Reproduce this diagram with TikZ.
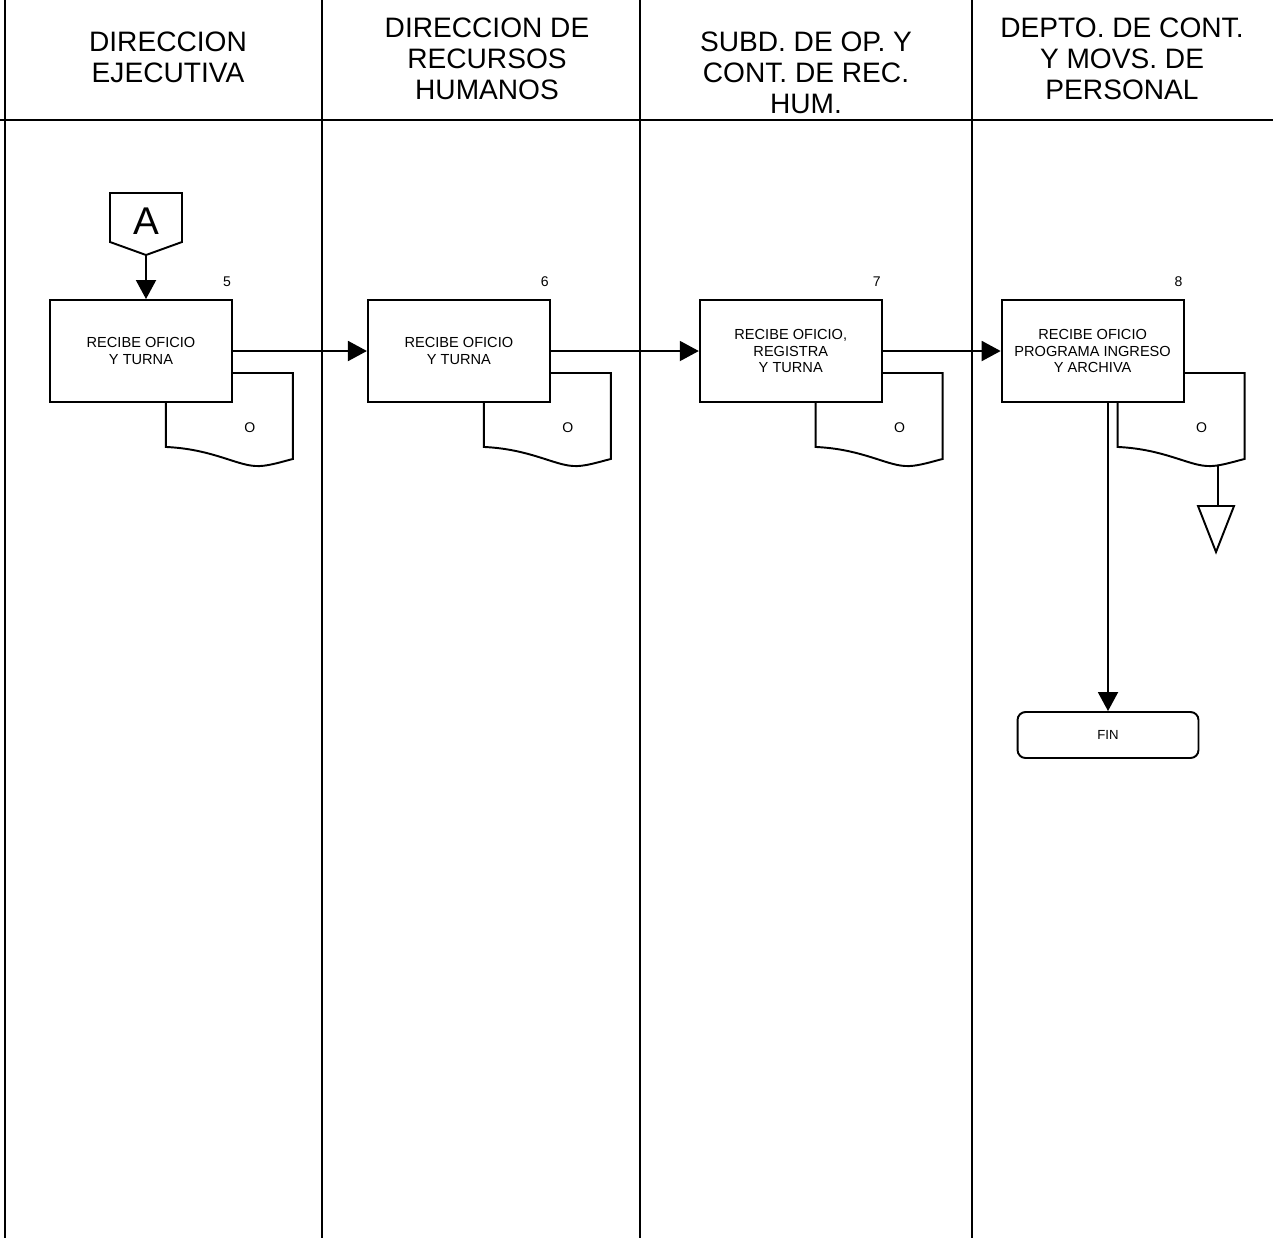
\documentclass[tikz,border=0pt]{standalone}
\usepackage{fontspec}
\setmainfont{Liberation Sans}
\usetikzlibrary{arrows.meta,positioning}
\pgfdeclarelayer{background}
\pgfsetlayers{background,main}

\tikzset{
  docline/.style={draw, fill=white, line width=1.1pt},
  doc/.pic={
    \begin{pgfonlayer}{background}
    \draw[docline] (0,0) -- (127,0) -- (127,86) .. controls (115,89) and (100,94) .. (89,93) .. controls (70,92) and (45,76) .. (0,74) -- cycle;
    \end{pgfonlayer}
    \node[font=\fontsize{8}{9}\selectfont] (-o) at (84,55) {O};
    \coordinate (-bot) at (100,92);
  }
}

\begin{document}
\begin{tikzpicture}[x=0.02cm, y=-0.02cm, line width=1.1pt, every node/.style={inner sep=0pt},
  ln/.style={line width=1.1pt},
  head/.style={align=center, font=\fontsize{16}{17.6}\selectfont},
  box/.style={draw, fill=white, ln, align=center, minimum width=3.64cm, minimum height=2.04cm, font=\fontsize{8.3}{9.4}\selectfont},
  num/.style={font=\fontsize{8}{9}\selectfont},
  term/.style={draw, fill=white, ln, rounded corners=0.16cm, minimum width=3.62cm, minimum height=0.92cm, font=\fontsize{7.5}{9}\selectfont},
  arr/.style={ln, -{Triangle[length=0.38cm,width=0.4cm]}},
  lane/.style={line width=1.3pt}]
\useasboundingbox (0,0) rectangle (1273,1238);

% lanes and header
\foreach \x in {5,322,640,972} \draw[lane] (\x,0) -- (\x,1238);
\draw[lane] (0,120) -- (1273,120);
\node[head] (h1) at (168,57) {DIRECCION\\EJECUTIVA};
\node[head] (h2) at (487,59) {DIRECCION DE\\RECURSOS\\HUMANOS};
\node[head] (h3) at (806,73) {SUBD. DE OP. Y\\CONT. DE REC.\\HUM.};
\node[head] (h4) at (1122,59) {DEPTO. DE CONT.\\Y MOVS. DE\\PERSONAL};

% off-page connector
\coordinate (conAtip) at (146,255);
\draw[ln] (conAtip) -- ++(36,-13) -- ++(0,-49) -- ++(-72,0) -- ++(0,49) -- cycle;
\node[font=\fontsize{22}{24}\selectfont] (conA) at (146,221) {A};

% steps
\node[box] (b5) at (141,351) {RECIBE OFICIO\\Y TURNA};
\node[box, right=2.68cm of b5] (b6) {RECIBE OFICIO\\Y TURNA};
\node[box, right=2.96cm of b6] (b7) {RECIBE OFICIO,\\REGISTRA\\Y TURNA};
\node[box, right=2.36cm of b7] (b8) {RECIBE OFICIO\\PROGRAMA INGRESO\\Y ARCHIVA};
\foreach \n in {5,6,7,8} {
  \node[num] (n\n) at ([shift={(-6,-17)}]b\n.north east) {\n};
  \pic (d\n) at ([shift={(-67,-30)}]b\n.south east) {doc};
}

\node[term] (fin) at (1108,735) {FIN};
\coordinate (arch) at (1216,506);
\draw[ln] (arch) ++(-18,0) -- ++(36,0) -- ++(-18,46) -- cycle;

\draw[arr] (conAtip) -- (conAtip |- b5.north);
\draw[arr] (b5) -- (b6);
\draw[arr] (b6) -- (b7);
\draw[arr] (b7) -- (b8);
\draw[arr] (fin.north |- b8.south) -- (fin.north);
\draw[ln] (d8-bot) -- (d8-bot |- arch);
\end{tikzpicture}
\end{document}
